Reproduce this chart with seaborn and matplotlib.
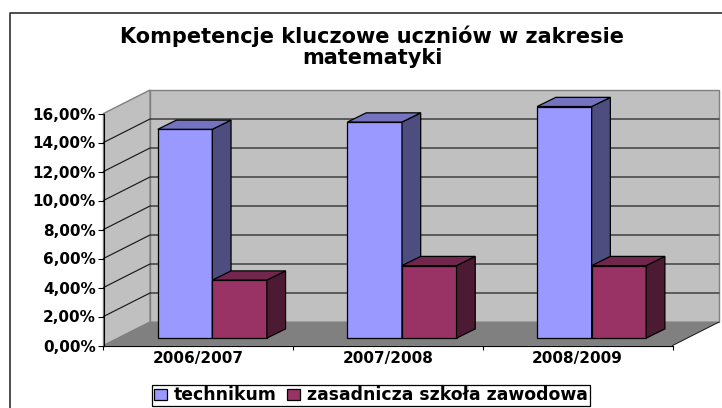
import matplotlib
matplotlib.use("Agg")
import matplotlib.pyplot as plt
from matplotlib.lines import Line2D
from matplotlib.patches import Polygon
from matplotlib.transforms import Affine2D, IdentityTransform
import pandas as pd
import seaborn as sns

years = ["2006/2007", "2007/2008", "2008/2009"]
technikum = [14.4, 14.9, 15.97]
zasadnicza = [4.0, 5.0, 5.0]
series_names = ["technikum", "zasadnicza szkoła zawodowa"]
y_ticks = [0, 2, 4, 6, 8, 10, 12, 14, 16]
y_tick_labels = ["0,00%", "2,00%", "4,00%", "6,00%", "8,00%", "10,00%", "12,00%", "14,00%", "16,00%"]
title = "Kompetencje kluczowe uczniów w zakresie\nmatematyki"

front_colors = ["#9999FF", "#993366"]
side_colors = ["#4D4D80", "#4D1A33"]
top_colors = ["#7373BF", "#73264D"]

# oblique projection offsets in pixels (dpi is 100, so points map 1:1 on the figure)
WALL_DX, WALL_DY = 46.5, 23.5
BAR_DX, BAR_DY = 14.0, 7.4
DEPTH_DX, DEPTH_DY = 18.7, 9.2

sns.set_style("white")
plt.rcParams["font.family"] = ["DejaVu Sans"]
plt.rcParams["font.weight"] = "bold"
plt.rcParams["text.color"] = "black"
plt.rcParams["xtick.color"] = "black"
plt.rcParams["ytick.color"] = "black"

df = pd.DataFrame({
    "year": years * 2,
    "value": technikum + zasadnicza,
    "series": [series_names[0]] * 3 + [series_names[1]] * 3,
})

fig = plt.figure(figsize=(7.22, 4.08), dpi=100)
ax = fig.add_axes([103.5 / 722, (408 - 345.5) / 408, 569 / 722, 232 / 408])
ax.patch.set_alpha(0)

sns.barplot(data=df, x="year", y="value", hue="series", hue_order=series_names,
            palette=front_colors, width=0.575, gap=0, saturation=1, ax=ax,
            edgecolor="black", linewidth=0.9, zorder=3)
ax.set_xlim(-0.5, 2.5)
ax.set_ylim(0, 16)
ax.set_xlabel("")
ax.set_ylabel("")


def to_px(x, y):
    return ax.transData.transform((x, y))


def add_poly(points, face, edge, lw=0.8, z=1):
    ax.add_patch(Polygon(points, closed=True, facecolor=face, edgecolor=edge, linewidth=lw,
                         transform=IdentityTransform(), clip_on=False, zorder=z))


wall = (WALL_DX, WALL_DY)
x0, x1 = ax.get_xlim()
y0, y1 = ax.get_ylim()
fl, fr = to_px(x0, y0), to_px(x1, y0)
tl, tr = to_px(x0, y1), to_px(x1, y1)

# back wall, side wall and floor
add_poly([fl + wall, fr + wall, tr + wall, tl + wall], "#C0C0C0", "#808080", lw=1.0, z=0)
add_poly([fl, fl + wall, tl + wall, tl], "#C0C0C0", "#808080", lw=1.0, z=0)
add_poly([fl, fr, fr + wall, fl + wall], "#808080", "#808080", lw=0.6, z=0.5)
ax.plot(*zip(fr, fr + wall), color="#202020", lw=0.7, transform=IdentityTransform(),
        clip_on=False, zorder=0.6)

# gridlines run along the side wall and then across the back wall
for tick in y_ticks[1:-1]:
    p = to_px(x0, tick)
    q = to_px(x1, tick)
    ax.plot([p[0], p[0] + WALL_DX, q[0] + WALL_DX], [p[1], p[1] + WALL_DY, q[1] + WALL_DY],
            color="#1A1A1A", lw=0.85, transform=IdentityTransform(), clip_on=False, zorder=1)

# push the bars back from the front plane and give them a side and a top
shift = Affine2D().translate(BAR_DX, BAR_DY)
for i, container in enumerate(ax.containers):
    for bar in container:
        bar.set_transform(ax.transData + shift)
        bar.set_zorder(3 + i)
        bar.set_clip_on(False)
        xa, xb = bar.get_x(), bar.get_x() + bar.get_width()
        h = bar.get_height()
        off = (BAR_DX, BAR_DY)
        dep = (BAR_DX + DEPTH_DX, BAR_DY + DEPTH_DY)
        add_poly([to_px(xb, 0) + off, to_px(xb, 0) + dep, to_px(xb, h) + dep, to_px(xb, h) + off],
                 side_colors[i], "black", lw=0.9, z=3 + i)
        add_poly([to_px(xa, h) + off, to_px(xb, h) + off, to_px(xb, h) + dep, to_px(xa, h) + dep],
                 top_colors[i], "black", lw=0.9, z=3 + i)

# axes
sns.despine(ax=ax, top=True, right=True)
for side in ["left", "bottom"]:
    ax.spines[side].set_color("black")
    ax.spines[side].set_linewidth(0.8)
    ax.spines[side].set_zorder(2)
ax.set_yticks(y_ticks)
ax.set_yticklabels(y_tick_labels, fontsize=11.0, fontweight="bold")
ax.set_xticks(range(3))
ax.set_xticklabels(years, fontsize=11.0, fontweight="bold")
ax.set_xticks([-0.5, 0.5, 1.5, 2.5], minor=True)
ax.tick_params(axis="y", length=4, width=0.8, color="black", left=True, pad=1.5)
ax.tick_params(axis="x", which="major", length=0, pad=4)
ax.tick_params(axis="x", which="minor", length=3, width=0.8, color="black", bottom=True)

fig.text(372 / 722, 1 - 47 / 408, title, ha="center", va="center", fontsize=15.0,
         fontweight="bold", linespacing=1.05, color="black")

# outer chart frame, only the top and left edges fall inside the image
fig.add_artist(Line2D([9.5 / 722, 9.5 / 722, 1], [0, 1 - 13 / 408, 1 - 13 / 408], color="#303030", lw=1.2))

handles, labels = ax.get_legend_handles_labels()
ax.get_legend().remove()
fig.legend(handles, labels, loc="center", bbox_to_anchor=(371 / 722, 1 - 395.5 / 408), ncol=2,
           frameon=True, fancybox=False, edgecolor="black", framealpha=1, fontsize=12.4,
           handlelength=0.75, handleheight=0.6, handletextpad=0.4, columnspacing=0.6,
           borderpad=0.1, borderaxespad=0)
fig.legends[0].get_frame().set_linewidth(0.9)

fig.savefig("out.png", dpi=100)
plt.close(fig)
